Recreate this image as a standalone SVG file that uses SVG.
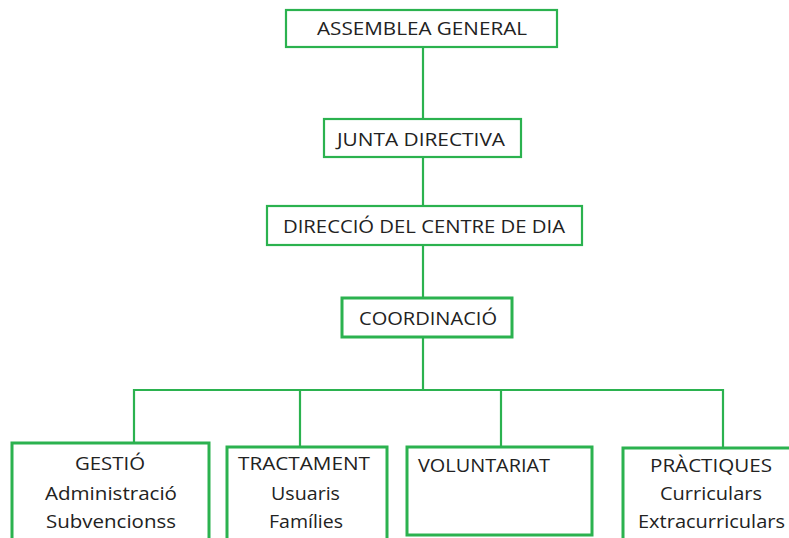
<svg xmlns="http://www.w3.org/2000/svg" width="789" height="538" viewBox="0 0 789 538">
<style>
.box{fill:#fff;stroke:#2bb24f;stroke-width:2.2}
.thick{stroke-width:3}
.ln{fill:none;stroke:#2bb24f;stroke-width:2.2}
text{font-family:"Open Sans","Liberation Sans",sans-serif;font-size:18px;fill:#222}
</style>
<rect width="789" height="538" fill="#fff"/>
<g id="connectors">
<line class="ln" x1="423" y1="47" x2="423" y2="119"/>
<line class="ln" x1="423" y1="157" x2="423" y2="206"/>
<line class="ln" x1="423" y1="245" x2="423" y2="298"/>
<line class="ln" x1="423" y1="337" x2="423" y2="390"/>
<polyline class="ln" points="134,443 134,390 723,390 723,448"/>
<line class="ln" x1="300" y1="390" x2="300" y2="447"/>
<line class="ln" x1="501" y1="390" x2="501" y2="447"/>
</g>
<g id="assemblea">
<rect class="box" x="286" y="10" width="271" height="37"/>
<text x="317" y="35" textLength="210" lengthAdjust="spacingAndGlyphs">ASSEMBLEA GENERAL</text>
</g>
<g id="junta">
<rect class="box" x="324" y="119" width="197" height="38"/>
<text x="337" y="146" textLength="168" lengthAdjust="spacingAndGlyphs">JUNTA DIRECTIVA</text>
</g>
<g id="direccio">
<rect class="box" x="267" y="206" width="315" height="39"/>
<text x="283" y="233" textLength="282" lengthAdjust="spacingAndGlyphs">DIRECCIÓ DEL CENTRE DE DIA</text>
</g>
<g id="coordinacio">
<rect class="box thick" x="342" y="298" width="170" height="39"/>
<text x="359" y="325" textLength="138" lengthAdjust="spacingAndGlyphs">COORDINACIÓ</text>
</g>
<g id="gestio">
<rect class="box thick" x="12" y="443" width="197" height="105"/>
<text x="75" y="470" textLength="70" lengthAdjust="spacingAndGlyphs">GESTIÓ</text>
<text x="45" y="500" textLength="132" lengthAdjust="spacingAndGlyphs">Administració</text>
<text x="46" y="528" textLength="130" lengthAdjust="spacingAndGlyphs">Subvencionss</text>
</g>
<g id="tractament">
<rect class="box thick" x="227" y="447" width="160" height="100"/>
<text x="238" y="470" textLength="132" lengthAdjust="spacingAndGlyphs">TRACTAMENT</text>
<text x="271" y="500" textLength="69" lengthAdjust="spacingAndGlyphs">Usuaris</text>
<text x="269" y="528" textLength="74" lengthAdjust="spacingAndGlyphs">Famílies</text>
</g>
<g id="voluntariat">
<rect class="box thick" x="407" y="447" width="185" height="88"/>
<text x="418" y="472" textLength="132" lengthAdjust="spacingAndGlyphs">VOLUNTARIAT</text>
</g>
<g id="practiques">
<rect class="box thick" x="623" y="448" width="180" height="100"/>
<text x="650" y="472" textLength="122" lengthAdjust="spacingAndGlyphs">PRÀCTIQUES</text>
<text x="660" y="500" textLength="102" lengthAdjust="spacingAndGlyphs">Curriculars</text>
<text x="638" y="528" textLength="147" lengthAdjust="spacingAndGlyphs">Extracurriculars</text>
</g>
</svg>
